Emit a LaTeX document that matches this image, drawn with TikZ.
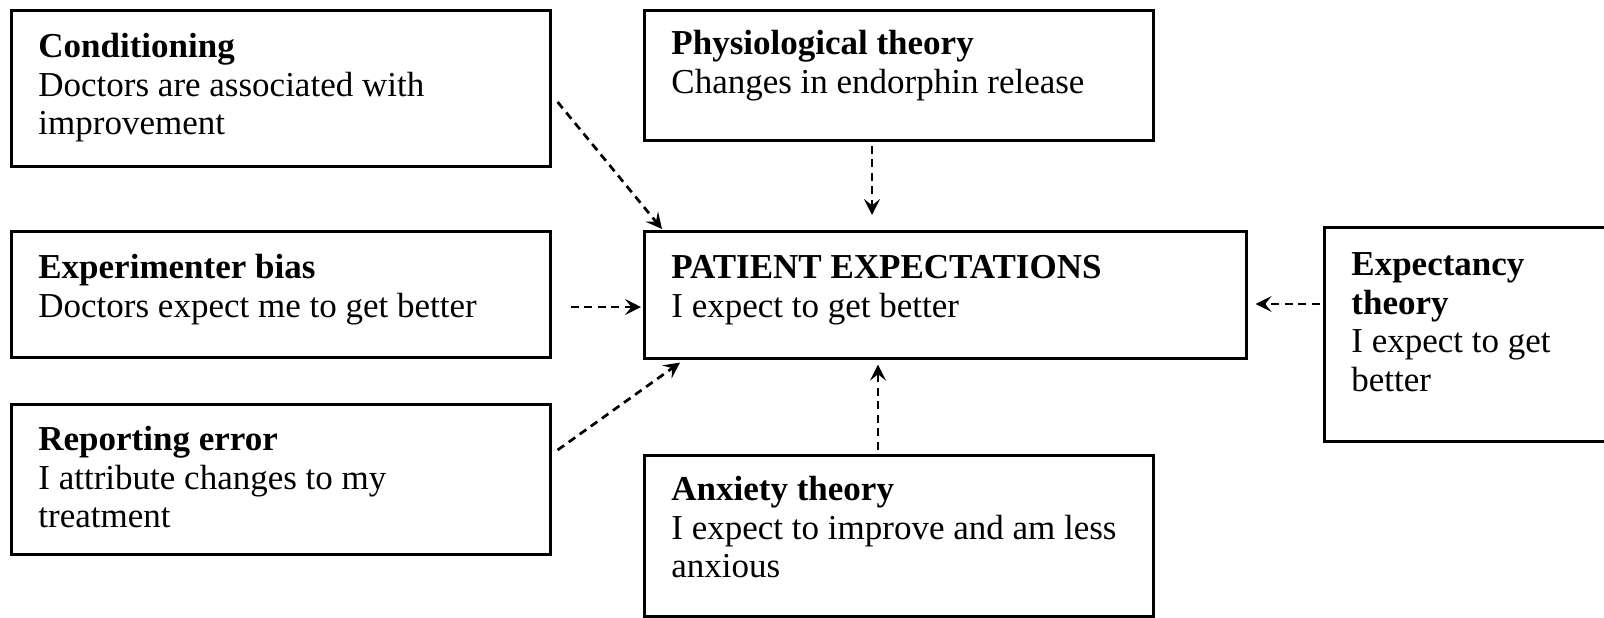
\documentclass[tikz,border=0pt]{standalone}
\usepackage{fontspec}
\setmainfont{Liberation Serif}
\usetikzlibrary{arrows.meta,calc}
\begin{document}
\begin{tikzpicture}[x=0.5pt,y=-0.5pt,
  box/.style={draw, line width=1.3pt, inner sep=0pt, anchor=north west},
  txt/.style={anchor=north west, align=left, inner sep=0pt, font=\fontsize{17.5}{19.3}\selectfont},
  arr/.style={-{Stealth[length=8pt,width=8pt,inset=3.2pt]}, line width=1.35pt, dash pattern=on 4pt off 2.8pt}]
\useasboundingbox (0,0) rectangle (1604,617);
\node[box, minimum width=269.5pt, minimum height=78pt] (cond) at (10,9) {};
\node[box, minimum width=254.5pt, minimum height=65pt] (phys) at (643,9) {};
\node[box, minimum width=269.5pt, minimum height=63pt] (exp) at (10,230) {};
\node[box, minimum width=301pt, minimum height=63.5pt] (pat) at (643,230) {};
\node[box, minimum width=143.5pt, minimum height=107pt] (expc) at (1323,226) {};
\node[box, minimum width=269.5pt, minimum height=75pt] (rep) at (10,403) {};
\node[box, minimum width=254.5pt, minimum height=80.5pt] (anx) at (643,454) {};

\node[txt] (condt) at ($(cond.north west)+(28,21)$) {\strut\textbf{Conditioning}\\Doctors are associated with\\improvement};
\node[txt] (physt) at ($(phys.north west)+(28,18)$) {\strut\textbf{Physiological theory}\\Changes in endorphin release};
\node[txt] (expt) at ($(exp.north west)+(28,21)$) {\strut\textbf{Experimenter bias}\\Doctors expect me to get better};
\node[txt] (patt) at ($(pat.north west)+(28,21)$) {\strut\textbf{PATIENT EXPECTATIONS}\\I expect to get better};
\node[txt] (expct) at ($(expc.north west)+(28,22)$) {\strut\textbf{Expectancy}\\\textbf{theory}\\I expect to get\\better};
\node[txt] (rept) at ($(rep.north west)+(28,20)$) {\strut\textbf{Reporting error}\\I attribute changes to my\\treatment};
\node[txt] (anxt) at ($(anx.north west)+(28,19)$) {\strut\textbf{Anxiety theory}\\I expect to improve and am less\\anxious};

\coordinate (a1) at ($(cond.north east)+(6,93)$);
\coordinate (b1) at ($(pat.north west)+(19,-1)$);
\coordinate (a2) at ($(phys.south west)+(229,4)$);
\coordinate (b2) at ($(pat.north west)+(229,-15)$);
\coordinate (a3) at ($(exp.north east)+(19,77)$);
\coordinate (b3) at ($(pat.north west)+(-2,77)$);
\coordinate (a4) at ($(rep.north east)+(6,47)$);
\coordinate (b4) at ($(pat.south west)+(37,3)$);
\coordinate (a5) at ($(anx.north west)+(235,-4)$);
\coordinate (b5) at ($(pat.south west)+(235,5)$);
\coordinate (a6) at ($(expc.north west)+(-3,78)$);
\coordinate (b6) at ($(pat.north east)+(8,74)$);
\draw[arr] (a1) -- (b1);
\draw[arr] (a2) -- (b2);
\draw[arr] (a3) -- (b3);
\draw[arr] (a4) -- (b4);
\draw[arr] (a5) -- (b5);
\draw[arr] (a6) -- (b6);
\end{tikzpicture}
\end{document}
